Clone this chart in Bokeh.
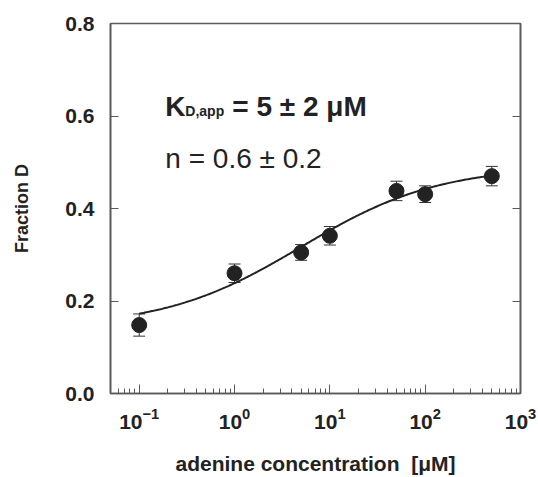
import numpy as np
from bokeh.plotting import figure
from bokeh.models import (ColumnDataSource, Whisker, TeeHead, Label, LinearAxis,
                          FixedTicker, Range1d, PrintfTickFormatter)
from bokeh.embed import file_html
from bokeh.resources import INLINE

# ---- data ----
conc = [0.1, 1, 5, 10, 50, 100, 500]                 # adenine concentration [uM]
frac_d = [0.148, 0.260, 0.305, 0.341, 0.438, 0.431, 0.470]
frac_err = [0.024, 0.020, 0.017, 0.020, 0.021, 0.018, 0.021]

# Hill fit parameters (KD,app and n from the chart annotation)
KD_APP = 5.0
N_HILL = 0.6
FIT_BASE = 0.142
FIT_AMP = 0.350
FIT_X_MIN, FIT_X_MAX = 0.1, 500

x_major = [0.1, 1, 10, 100, 1000]
y_major = [0.0, 0.2, 0.4, 0.6, 0.8]

kd_text_main = "K"
kd_text_sub = "D,app"
kd_text_rest = "= 5 ± 2 μM"
n_text = "n = 0.6 ± 0.2"
x_title = "adenine concentration\u00a0 [μM]"
y_title = "Fraction D"

INK = "#222222"
FRAME = "#5a5a5a"
FONT = "Liberation Sans"

# ---- derived ----
lower = [v - e for v, e in zip(frac_d, frac_err)]
upper = [v + e for v, e in zip(frac_d, frac_err)]
src = ColumnDataSource(dict(x=conc, y=frac_d, lower=lower, upper=upper))

fx = np.logspace(np.log10(FIT_X_MIN), np.log10(FIT_X_MAX), 300)
fy = FIT_BASE + FIT_AMP * fx**N_HILL / (KD_APP**N_HILL + fx**N_HILL)

minor = [m * 10.0**e for e in range(-2, 3) for m in range(2, 10)]
minor = [t for t in minor if 0.055 < t < 1000]

p = figure(width=538, height=477, x_axis_type="log",
           x_range=Range1d(0.05, 1000), y_range=Range1d(0.0, 0.8),
           output_backend="svg", toolbar_location=None,
           min_border_left=110, min_border_right=18,
           min_border_top=23, min_border_bottom=84)
p.background_fill_color = "white"
p.border_fill_color = "white"
p.outline_line_color = FRAME
p.outline_line_width = 1.6
p.xgrid.grid_line_color = None
p.ygrid.grid_line_color = None

# x axis
xa = p.xaxis[0]
xa.ticker = FixedTicker(ticks=x_major, minor_ticks=minor)
xa.major_tick_in = 9
xa.major_tick_out = 0
xa.minor_tick_in = 5
xa.minor_tick_out = 0
xa.major_tick_line_color = FRAME
xa.minor_tick_line_color = FRAME
xa.axis_line_color = FRAME
xa.axis_line_width = 1.6
xa.major_label_text_font = FONT
xa.major_label_text_font_style = "bold"
xa.major_label_text_font_size = "21px"
xa.major_label_text_color = INK
xa.major_label_standoff = 14
xa.axis_label = x_title
xa.axis_label_text_font = FONT
xa.axis_label_text_font_style = "bold"
xa.axis_label_text_font_size = "21px"
xa.axis_label_text_color = INK
xa.axis_label_standoff = 20

# y axis (left)
ya = p.yaxis[0]
ya.ticker = FixedTicker(ticks=y_major)
ya.formatter = PrintfTickFormatter(format="%.1f")
ya.major_tick_in = 8
ya.major_tick_out = 0
ya.minor_tick_line_color = None
ya.major_tick_line_color = FRAME
ya.axis_line_color = FRAME
ya.axis_line_width = 1.6
ya.major_label_text_font = FONT
ya.major_label_text_font_style = "bold"
ya.major_label_text_font_size = "21px"
ya.major_label_text_color = INK
ya.major_label_standoff = 16
ya.axis_label = y_title
ya.axis_label_text_font = FONT
ya.axis_label_text_font_style = "bold"
ya.axis_label_text_font_size = "18px"
ya.axis_label_text_color = INK
ya.axis_label_standoff = 30

# right axis: inward ticks only, no labels drawn
ra = LinearAxis(ticker=FixedTicker(ticks=y_major), major_tick_in=8, major_tick_out=0,
                minor_tick_line_color=None, major_tick_line_color=FRAME,
                axis_line_color=FRAME, axis_line_width=1.6,
                major_label_text_font_size="1px", major_label_text_color=None,
                major_label_standoff=0)
p.add_layout(ra, "right")

# fit curve
p.line(fx, fy, line_color=INK, line_width=2)

# error bars
wh = Whisker(base="x", lower="lower", upper="upper", source=src,
             line_color="#333333", line_width=1,
             upper_head=TeeHead(size=12, line_color="#333333", line_width=1),
             lower_head=TeeHead(size=12, line_color="#333333", line_width=1))
wh.level = "underlay"
p.add_layout(wh)

# points
p.scatter("x", "y", source=src, size=15, fill_color=INK, line_color=INK)

# annotation text
p.add_layout(Label(x=0.188, y=0.621, text=kd_text_main, text_font=FONT,
                   text_font_style="bold", text_font_size="28px", text_color=INK,
                   text_baseline="alphabetic"))
p.add_layout(Label(x=0.188, y=0.621, x_offset=20, y_offset=-5, text=kd_text_sub,
                   text_font=FONT, text_font_style="bold", text_font_size="14px",
                   text_color=INK, text_baseline="alphabetic"))
p.add_layout(Label(x=0.188, y=0.621, x_offset=67, text=kd_text_rest, text_font=FONT,
                   text_font_style="bold", text_font_size="28px", text_color=INK,
                   text_baseline="alphabetic"))
p.add_layout(Label(x=0.188, y=0.508, text=n_text, text_font=FONT,
                   text_font_size="28px", text_color=INK, text_baseline="alphabetic"))

open("out.html", "w").write(file_html(p, INLINE))
